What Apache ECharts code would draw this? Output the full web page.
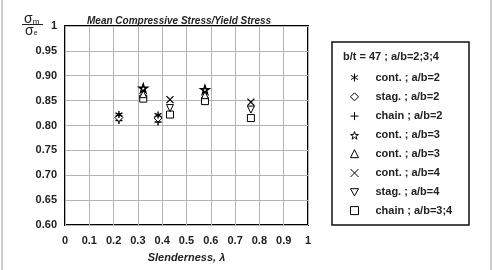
<!DOCTYPE html>
<html>
<head>
<meta charset="utf-8">
<script src="https://cdn.jsdelivr.net/npm/echarts@6/dist/echarts.min.js"></script>
<style>
  html, body { margin: 0; padding: 0; background: #fff; }
  #chart { width: 493px; height: 270px; }
</style>
</head>
<body>
<div id="chart"></div>
<script>
  // [slenderness, sigma_m / sigma_e]
  var contA2 = [[0.222, 0.822], [0.383, 0.821]];
  var stagA2 = [[0.222, 0.816], [0.383, 0.815]];
  var chainA2 = [[0.222, 0.810], [0.383, 0.807]];
  var contA3 = [[0.322, 0.875], [0.576, 0.872]];
  var triA3 = [[0.322, 0.863], [0.576, 0.861]];
  var contA4 = [[0.432, 0.852], [0.765, 0.847]];
  var stagA4 = [[0.432, 0.835], [0.765, 0.832]];
  var chainA34 = [[0.322, 0.854], [0.432, 0.822], [0.576, 0.849], [0.765, 0.815]];

  var seriesKeys = ['s1', 's2', 's3', 's4', 's5', 's6', 's7', 's8'];
  var seriesLabels = ['cont. ; a/b=2', 'stag. ; a/b=2', 'chain ; a/b=2', 'cont. ; a/b=3',
    'cont. ; a/b=3', 'cont. ; a/b=4', 'stag. ; a/b=4', 'chain ; a/b=3;4'];
  var seriesData = [contA2, stagA2, chainA2, contA3, triA3, contA4, stagA4, chainA34];

  var FONT = '"Liberation Sans", Arial, sans-serif';

  // marker shapes
  var starPath = 'path://M5,0 L6.2,3.6 L10,3.6 L6.9,5.8 L8.1,9.5 L5,7.2 L1.9,9.5 L3.1,5.8 L0,3.6 L3.8,3.6 Z';
  var symbols = [
    { symbol: 'path://M5,0L5,10M0.7,2.5L9.3,7.5M0.7,7.5L9.3,2.5', size: 7, fill: 'none', bw: 1.4 },
    { symbol: 'diamond', size: 8, fill: '#fff', bw: 1 },
    { symbol: 'path://M5,0L5,10M0,5L10,5', size: 7, fill: 'none', bw: 1.4 },
    { symbol: starPath, size: 8, fill: '#fff', bw: 1.6 },
    { symbol: 'triangle', size: 7, fill: '#fff', bw: 1 },
    { symbol: 'path://M0,0L10,10M10,0L0,10', size: 7, fill: 'none', bw: 1.3 },
    { symbol: 'path://M0,0L10,0L5,9Z', size: 7, fill: '#fff', bw: 1 },
    { symbol: 'rect', size: 7, fill: '#fff', bw: 1 }
  ];

  var series = [];
  for (var i = 0; i < seriesKeys.length; i++) {
    var s = symbols[i];
    series.push({
      name: seriesKeys[i],
      type: 'scatter',
      data: seriesData[i],
      symbol: s.symbol,
      symbolSize: s.size,
      itemStyle: { color: s.fill, borderColor: '#000', borderWidth: s.bw, opacity: 1 },
      z: 10 - i
    });
  }

  var option = {
    backgroundColor: '#fff',
    animation: false,
    title: {
      text: 'Mean Compressive Stress/Yield Stress',
      left: 82,
      top: 11,
      textStyle: { fontFamily: FONT, fontSize: 10, fontWeight: 'bold', fontStyle: 'italic', color: '#222' }
    },
    grid: {
      left: 65, top: 26, right: 185, bottom: 45,
      show: true, borderColor: '#000', borderWidth: 2
    },
    xAxis: {
      type: 'value', min: 0, max: 1, interval: 0.1,
      name: 'Slenderness, λ', nameLocation: 'middle', nameGap: 27,
      nameTextStyle: { fontFamily: FONT, fontSize: 11, fontWeight: 'bold', fontStyle: 'italic', color: '#222' },
      axisLine: { show: false },
      axisTick: { show: false },
      axisLabel: { margin: 10, fontFamily: FONT, fontSize: 11, fontWeight: 'bold', color: '#222' },
      splitLine: { lineStyle: { color: '#b4b4b4', width: 1 } }
    },
    yAxis: {
      type: 'value', min: 0.6, max: 1, interval: 0.05,
      axisLine: { show: false },
      axisTick: { show: false },
      axisLabel: {
        margin: 8, fontFamily: FONT, fontSize: 11, fontWeight: 'bold', color: '#222',
        formatter: function (v) { return v === 1 ? '1' : v.toFixed(2); }
      },
      splitLine: { lineStyle: { color: '#b4b4b4', width: 1 } }
    },
    legend: {
      orient: 'vertical',
      left: 343, top: 66,
      itemWidth: 8, itemHeight: 8, itemGap: 7.3,
      data: seriesKeys,
      itemStyle: { borderWidth: 1 },
      formatter: function (name) { return seriesLabels[seriesKeys.indexOf(name)]; },
      textStyle: { fontFamily: FONT, fontSize: 11, fontWeight: 'bold', color: '#222', padding: [0, 0, 0, 12] },
      selectedMode: false
    },
    graphic: [
      { type: 'rect', shape: { x: 2, y: -2, width: 489, height: 275 },
        style: { fill: 'none', stroke: '#999', lineWidth: 1 }, silent: true },
      { type: 'rect', shape: { x: 332, y: 42, width: 137, height: 183 },
        style: { fill: '#fff', stroke: '#111', lineWidth: 1.5 }, z: -1 },
      { type: 'text', x: 343, y: 57,
        style: { text: 'b/t = 47 ; a/b=2;3;4', fill: '#222', font: 'bold 11px ' + FONT, textVerticalAlign: 'middle' } },
      // y-axis name as a fraction
      { type: 'text', x: 24, y: 19,
        style: {
          text: '{s|σ}{sub|m}', textVerticalAlign: 'middle',
          rich: {
            s: { fontFamily: FONT, fontSize: 14, fill: '#222' },
            sub: { fontFamily: FONT, fontSize: 8, fill: '#222', padding: [5, 0, 0, 0] }
          }
        } },
      { type: 'line', shape: { x1: 22, y1: 24.5, x2: 43, y2: 24.5 }, style: { stroke: '#222', lineWidth: 1 } },
      { type: 'text', x: 25, y: 31,
        style: {
          text: '{s|σ}{sub|e}', textVerticalAlign: 'middle',
          rich: {
            s: { fontFamily: FONT, fontSize: 14, fill: '#222' },
            sub: { fontFamily: FONT, fontSize: 7, fill: '#222', padding: [5, 0, 0, 0] }
          }
        } }
    ],
    series: series
  };

  var myChart = echarts.init(document.getElementById('chart'));
  myChart.setOption(option);
</script>
</body>
</html>
